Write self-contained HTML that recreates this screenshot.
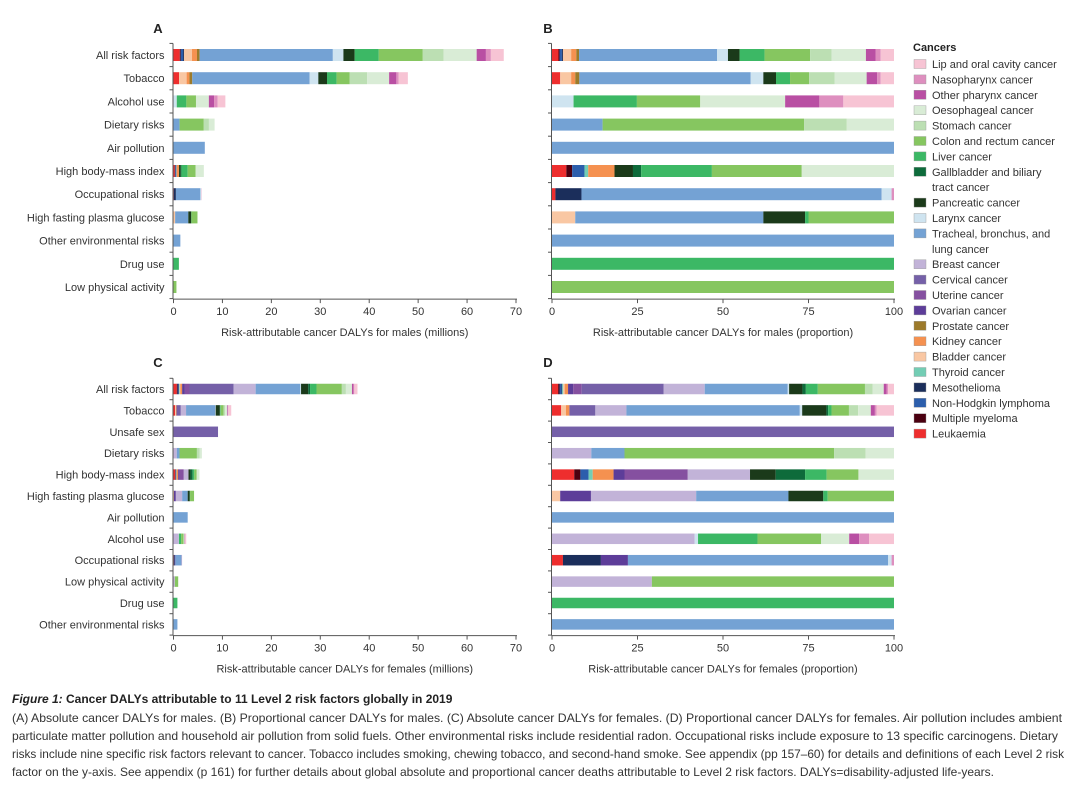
<!DOCTYPE html>
<html><head><meta charset="utf-8"><style>
body{margin:0;background:#fff;width:1080px;height:787px;overflow:hidden}
svg{display:block;font-family:"Liberation Sans",sans-serif}
</style></head><body>
<svg id="fig" width="1080" height="787" viewBox="0 0 1080 787"></svg>
<script>
// Cancer types in stacking order (left to right)
const cancers=["Leukaemia","Multiple myeloma","Non-Hodgkin lymphoma","Mesothelioma","Thyroid cancer","Bladder cancer","Kidney cancer","Prostate cancer","Ovarian cancer","Uterine cancer","Cervical cancer","Breast cancer","Tracheal, bronchus, and lung cancer","Larynx cancer","Pancreatic cancer","Gallbladder and biliary tract cancer","Liver cancer","Colon and rectum cancer","Stomach cancer","Oesophageal cancer","Other pharynx cancer","Nasopharynx cancer","Lip and oral cavity cancer"];
const colors=["#ee2e2e","#4a0010","#2c5eac","#1b2e5b","#73cdb4","#f9c7a3","#f59150","#9c7a2a","#5d3d99","#8550a0","#7560a8","#c2b3d8","#74a2d4","#cfe4f0","#1b3a1a","#0e6b3b","#3cb865","#86c660","#bcdfb3","#d9ecd6","#b94fa3","#de8fbf","#f7c4d4"];
// Males
const maleRisks=["All risk factors","Tobacco","Alcohol use","Dietary risks","Air pollution","High body-mass index","Occupational risks","High fasting plasma glucose","Other environmental risks","Drug use","Low physical activity"];
const maleTotals=[67.5,47.9,10.6,8.4,6.4,6.2,5.7,4.9,1.4,1.1,0.6];
const maleShares=[
[1.9,0.3,0.7,0.3,0,2.4,1.5,0.8,0,0,0,0,40.3,3.2,3.4,0,7.3,13.3,6.3,10.0,2.8,1.5,3.9],
[2.4,0,0,0,0,3.2,1.2,1.2,0,0,0,0,50.1,3.7,3.7,0,4.1,5.6,7.4,9.4,3.1,1.0,3.9],
[0,0,0,0,0,0,0,0,0,0,0,0,0,6.3,0,0,18.5,18.5,0,24.8,10.0,7.0,14.8],
[0,0,0,0,0,0,0,0,0,0,0,0,14.8,0,0,0,0,58.9,12.5,13.8,0,0,0],
[0,0,0,0,0,0,0,0,0,0,0,0,100,0,0,0,0,0,0,0,0,0,0],
[4.2,1.7,3.6,0,1.1,0,7.7,0,0,0,0,0,0,0,5.4,2.4,20.7,26.3,0,27.0,0,0,0],
[1.0,0,0,7.6,0,0,0,0,0,0,0,0,87.6,2.9,0,0,0,0,0,0,0,0.7,0],
[0,0,0,0,0,6.8,0,0,0,0,0,0,55.0,0,12.2,0,1.0,25.0,0,0,0,0,0],
[0,0,0,0,0,0,0,0,0,0,0,0,100,0,0,0,0,0,0,0,0,0,0],
[0,0,0,0,0,0,0,0,0,0,0,0,0,0,0,0,100,0,0,0,0,0,0],
[0,0,0,0,0,0,0,0,0,0,0,0,0,0,0,0,0,100,0,0,0,0,0]];
// Females
const femaleRisks=["All risk factors","Tobacco","Unsafe sex","Dietary risks","High body-mass index","High fasting plasma glucose","Air pollution","Alcohol use","Occupational risks","Low physical activity","Drug use","Other environmental risks"];
const femaleTotals=[37.6,11.8,9.1,5.8,5.3,4.2,2.9,2.6,1.7,0.96,0.8,0.8];
const femaleShares=[
[1.8,0.4,0.6,0.2,0.3,0.4,1.0,1.5,2.5,24.0,12.0,24.3,0.4,3.9,1.0,3.5,13.8,2.2,3.3,0.8,0.5,1.7].slice(0,0).concat([1.8,0.4,0.6,0.2,0.3,0.4,1.0,0,1.5,2.5,24.0,12.0,24.3,0.4,3.9,1.0,3.5,13.8,2.2,3.3,0.8,0.5,1.7]),
[2.7,0,0,0,0,1.4,1.0,0,0,0,7.6,9.1,50.8,0.7,7.1,0.5,1.0,5.1,2.7,3.7,1.2,0.5,5.1],
[0,0,0,0,0,0,0,0,0,0,100,0,0,0,0,0,0,0,0,0,0,0,0],
[0,0,0,0,0,0,0,0,0,0,0,11.5,9.7,0,0,0,0,61.3,9.2,8.3,0,0,0],
[6.5,1.8,2.4,0,1.2,0,6.1,0,3.2,18.5,0,18.2,0,0,7.5,8.6,6.3,9.3,0,10.4,0,0,0],
[0,0,0,0,0,2.4,0,0,9.0,0,0,30.8,27.0,0,10.2,0,1.3,19.4,0,0,0,0,0],
[0,0,0,0,0,0,0,0,0,0,0,0,100,0,0,0,0,0,0,0,0,0,0],
[0,0,0,0,0,0,0,0,0,0,0,41.7,0,1.0,0,0,17.4,18.6,0,8.2,2.9,2.9,7.3],
[3.2,0,0,11.1,0,0,0,0,7.9,0,0,0,76.1,1.0,0,0,0,0,0,0,0,0.7,0],
[0,0,0,0,0,0,0,0,0,0,0,29.2,0,0,0,0,0,70.8,0,0,0,0,0],
[0,0,0,0,0,0,0,0,0,0,0,0,0,0,0,0,100,0,0,0,0,0,0],
[0,0,0,0,0,0,0,0,0,0,0,0,100,0,0,0,0,0,0,0,0,0,0]];
const absTicks=[0,10,20,30,40,50,60,70];
const propTicks=[0,25,50,75,100];

const NS="http://www.w3.org/2000/svg";
const svg=document.getElementById("fig");
function mk(tag,attrs,parent,txt){const e=document.createElementNS(NS,tag);for(const k in attrs)e.setAttribute(k,attrs[k]);if(txt!==undefined)e.textContent=txt;(parent||svg).appendChild(e);return e;}

function panel(opts){
  const g=mk("g",{});
  
  
  const x0=opts.x0,x1=opts.x1,max=opts.max;
  const sx=v=>x0+(x1-x0)*v/max;
  const n=opts.risks.length;
  const yr=i=>opts.yTop+i*opts.step;
  const letter=mk("text",{x:opts.lx,y:opts.ly,"font-size":13,"font-weight":"bold",fill:"#222","text-anchor":"middle"},g,opts.letter);
  
  
  const axisY=yr(n-1)+opts.step/2+0.5;
  const top=yr(0)-opts.step/2;
  // y axis
  const ya=mk("line",{x1:x0-0.5,x2:x0-0.5,y1:top,y2:axisY,stroke:"#555","stroke-width":1},g);
  
  
  for(let i=0;i<=n;i++){const ty=top+i*opts.step;mk("line",{x1:x0-4,x2:x0-0.5,y1:ty,y2:ty,stroke:"#555"},g);}
  const xa=mk("line",{x1:x0-0.5,x2:x1+1,y1:axisY,y2:axisY,stroke:"#555","stroke-width":1},g);
  
  
  opts.ticks.forEach(t=>{
    const tx=sx(t);
    mk("line",{x1:tx,x2:tx,y1:axisY,y2:axisY+4,stroke:"#555"},g);
    const tl=mk("text",{x:tx,y:axisY+16,"font-size":11,fill:"#333","text-anchor":"middle"},g,String(t));
    
    
  });
  const ttl=mk("text",{x:(x0+x1)/2,y:axisY+37,"font-size":11,fill:"#333","text-anchor":"middle"},g,opts.title);
  
  
  opts.risks.forEach((r,i)=>{
    const cy=yr(i);
    if(opts.labels){
      const l=mk("text",{x:x0-9,y:cy+4,"font-size":11,fill:"#333","text-anchor":"end"},g,r);
      
      
    }
    const sh=opts.shares[i];
    const sum=sh.reduce((a,b)=>a+b,0);
    const scale=opts.abs?opts.totals[i]/sum:100/sum;
    let acc=0;
    sh.forEach((v,k)=>{
      if(v<=0)return;
      const a=sx(acc*scale),b=sx((acc+v)*scale);acc+=v;
      const rect=mk("rect",{x:a,y:cy-opts.bh/2,width:Math.max(b-a,0.3),height:opts.bh,fill:colors[k]},g);
      
      
    });
  });
}
const rowM={yTop:55,step:23.2,bh:12};
const rowF={yTop:389,step:21.4,bh:10.5};
panel({name:"panel-a",letter:"A",lx:158,ly:33,x0:173.5,x1:516,max:70,ticks:absTicks,risks:maleRisks,shares:maleShares,totals:maleTotals,abs:true,labels:true,title:"Risk-attributable cancer DALYs for males (millions)",...rowM});
panel({name:"panel-b",letter:"B",lx:548,ly:33,x0:552,x1:894,max:100,ticks:propTicks,risks:maleRisks,shares:maleShares,abs:false,labels:false,title:"Risk-attributable cancer DALYs for males (proportion)",...rowM});
panel({name:"panel-c",letter:"C",lx:158,ly:367,x0:173.5,x1:516,max:70,ticks:absTicks,risks:femaleRisks,shares:femaleShares,totals:femaleTotals,abs:true,labels:true,title:"Risk-attributable cancer DALYs for females (millions)",...rowF});
panel({name:"panel-d",letter:"D",lx:548,ly:367,x0:552,x1:894,max:100,ticks:propTicks,risks:femaleRisks,shares:femaleShares,abs:false,labels:false,title:"Risk-attributable cancer DALYs for females (proportion)",...rowF});

// Legend
const lg=mk("g",{});


mk("text",{x:913,y:51,"font-size":11,"font-weight":"bold",fill:"#222"},lg,"Cancers");
const legendLines=[["Lip and oral cavity cancer"],["Nasopharynx cancer"],["Other pharynx cancer"],["Oesophageal cancer"],["Stomach cancer"],["Colon and rectum cancer"],["Liver cancer"],["Gallbladder and biliary","tract cancer"],["Pancreatic cancer"],["Larynx cancer"],["Tracheal, bronchus, and","lung cancer"],["Breast cancer"],["Cervical cancer"],["Uterine cancer"],["Ovarian cancer"],["Prostate cancer"],["Kidney cancer"],["Bladder cancer"],["Thyroid cancer"],["Mesothelioma"],["Non-Hodgkin lymphoma"],["Multiple myeloma"],["Leukaemia"]];
let ly=64;
legendLines.forEach((lines,j)=>{
  const ci=22-j;
  const e=mk("g",{},lg);
  
  
  mk("rect",{x:914,y:ly-4.5,width:12,height:9,fill:colors[ci],stroke:"#999","stroke-width":0.4},e);
  lines.forEach((t,q)=>mk("text",{x:932,y:ly+4+q*15.4,"font-size":11,fill:"#333"},e,t));
  ly+=15.4*lines.length;
});

// Caption
const cap=mk("g",{});


const t0=mk("text",{x:12,y:703,"font-size":12,"font-weight":"bold",fill:"#222"},cap);
mk("tspan",{"font-style":"italic"},t0,"Figure 1: ");
mk("tspan",{},t0,"Cancer DALYs attributable to 11 Level 2 risk factors globally in 2019");
const capLines=["(A) Absolute cancer DALYs for males. (B) Proportional cancer DALYs for males. (C) Absolute cancer DALYs for females. (D) Proportional cancer DALYs for females. Air pollution includes ambient",
"particulate matter pollution and household air pollution from solid fuels. Other environmental risks include residential radon. Occupational risks include exposure to 13 specific carcinogens. Dietary",
"risks include nine specific risk factors relevant to cancer. Tobacco includes smoking, chewing tobacco, and second-hand smoke. See appendix (pp 157–60) for details and definitions of each Level 2 risk",
"factor on the y-axis. See appendix (p 161) for further details about global absolute and proportional cancer deaths attributable to Level 2 risk factors. DALYs=disability-adjusted life-years."];
const capW=[1050,1046,1052,982];
capLines.forEach((t,i)=>mk("text",{x:12,y:722+i*18,"font-size":12,fill:"#333",textLength:capW[i],lengthAdjust:"spacingAndGlyphs"},cap,t));
</script>
</body></html>
